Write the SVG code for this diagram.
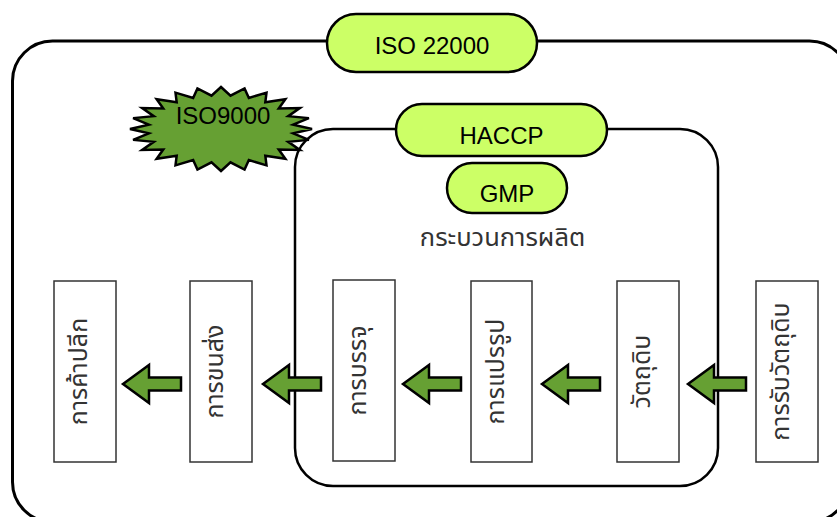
<svg xmlns="http://www.w3.org/2000/svg" xmlns:xlink="http://www.w3.org/1999/xlink" width="837" height="517" viewBox="0 0 837 517">
<style>
.frame{fill:none;stroke:#000;}
.pill{fill:#CCFF66;stroke:#000;stroke-width:2.5;}
.lbl{font-family:"Liberation Sans",Arial,sans-serif;font-size:24px;fill:#000;text-anchor:middle;}
.box{fill:#fff;stroke:#333;stroke-width:1.5;}
.th{font-family:"Noto Sans Thai","Noto Sans","DejaVu Sans",sans-serif;font-size:25px;fill:#333;text-anchor:middle;}
.arrow{fill:#66A033;stroke:#000;stroke-width:2.5;stroke-linejoin:miter;}
</style>
<defs>
<path id="arr" d="M0,0 L26,-19 L26,-6.5 L58,-6.5 L58,6.5 L26,6.5 L26,19 Z"/>
</defs>
<rect width="837" height="517" fill="#fff"/>
<g id="iso22000">
<rect class="frame" x="12.5" y="41" width="837" height="481" rx="40" ry="40" stroke-width="3"/>
<rect class="pill" x="327" y="14" width="210" height="58" rx="29" ry="29"/>
<text class="lbl" x="432" y="54">ISO 22000</text>
</g>
<g id="iso9000">
<polygon fill="#66A033" stroke="#000" stroke-width="2.5" stroke-linejoin="miter" vector-effect="non-scaling-stroke" transform="translate(221,129) scale(91,42)" points="0,-1 .1044,-.7932 .2588,-.9659 .3062,-.7391 .5,-.866 .4870,-.6347 .7071,-.7071 .6347,-.4870 .866,-.5 .7391,-.3062 .9659,-.2588 .7932,-.1044 1,0 .7932,.1044 .9659,.2588 .7391,.3062 .866,.5 .6347,.4870 .7071,.7071 .4870,.6347 .5,.866 .3062,.7391 .2588,.9659 .1044,.7932 0,1 -.1044,.7932 -.2588,.9659 -.3062,.7391 -.5,.866 -.4870,.6347 -.7071,.7071 -.6347,.4870 -.866,.5 -.7391,.3062 -.9659,.2588 -.7932,.1044 -1,0 -.7932,-.1044 -.9659,-.2588 -.7391,-.3062 -.866,-.5 -.6347,-.4870 -.7071,-.7071 -.4870,-.6347 -.5,-.866 -.3062,-.7391 -.2588,-.9659 -.1044,-.7932"/>
<text class="lbl" x="223" y="124" fill="#222">ISO9000</text>
</g>
<g id="process">
<rect class="frame" x="295" y="129" width="423" height="357" rx="38" ry="38" stroke-width="2.5"/>
<text class="th" x="502.5" y="246" style="font-size:25.5px">กระบวนการผลิต</text>
</g>
<g id="haccp">
<rect class="pill" x="396" y="104" width="211" height="52" rx="26" ry="26"/>
<text class="lbl" x="501.5" y="144">HACCP</text>
</g>
<g id="gmp">
<rect class="pill" x="447" y="163" width="120" height="50" rx="25" ry="25"/>
<text class="lbl" x="507" y="202">GMP</text>
</g>
<g id="retail">
<rect class="box" x="54" y="281" width="62" height="181"/>
<text class="th" transform="translate(79,371.5) rotate(-90)" dominant-baseline="central">การค้าปลีก</text>
</g>
<g id="transport">
<rect class="box" x="190" y="281" width="62" height="181"/>
<text class="th" transform="translate(215,371.5) rotate(-90)" dominant-baseline="central">การขนส่ง</text>
</g>
<g id="packing">
<rect class="box" x="333" y="280" width="62" height="181"/>
<text class="th" transform="translate(358,370.5) rotate(-90)" dominant-baseline="central">การบรรจุ</text>
</g>
<g id="processing">
<rect class="box" x="471" y="281" width="61" height="181"/>
<text class="th" transform="translate(495.5,371.5) rotate(-90)" dominant-baseline="central">การแปรรูป</text>
</g>
<g id="raw">
<rect class="box" x="617" y="281" width="62" height="181"/>
<text class="th" transform="translate(642,371.5) rotate(-90)" dominant-baseline="central">วัตถุดิบ</text>
</g>
<g id="receiving">
<rect class="box" x="756" y="281" width="62" height="181"/>
<text class="th" transform="translate(781,371.5) rotate(-90)" dominant-baseline="central">การรับวัตถุดิบ</text>
</g>
<g id="connectors">
<use xlink:href="#arr" href="#arr" class="arrow" transform="translate(123,384)"/>
<use xlink:href="#arr" href="#arr" class="arrow" transform="translate(263,384)"/>
<use xlink:href="#arr" href="#arr" class="arrow" transform="translate(403,384)"/>
<use xlink:href="#arr" href="#arr" class="arrow" transform="translate(542,384)"/>
<use xlink:href="#arr" href="#arr" class="arrow" transform="translate(688,384)"/>
</g>
</svg>
